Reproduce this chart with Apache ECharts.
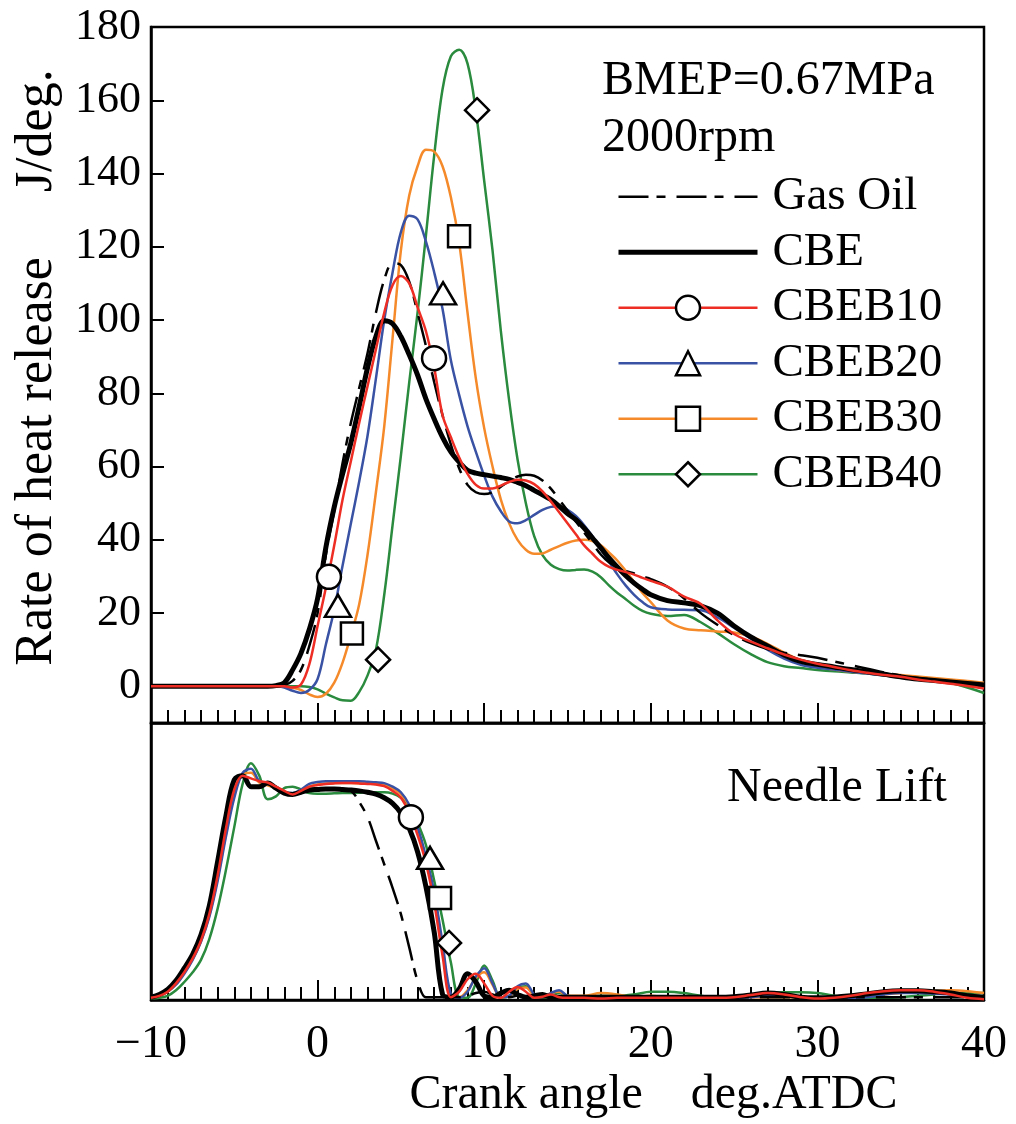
<!DOCTYPE html>
<html>
<head>
<meta charset="utf-8">
<script src="https://cdn.jsdelivr.net/npm/echarts@6/dist/echarts.min.js"></script>
<style>
html, body { margin: 0; padding: 0; background: #fff; }
#chart { width: 1016px; height: 1124px; }
</style>
</head>
<body>
<div id="chart"></div>
<script>
// ---- Rate of heat release (J/deg.) against crank angle (deg. ATDC) ----
const angleHR = [-10, -6, -3, -2.5, -2, -1.5, -1, -0.5, 0, 0.5, 1, 1.5, 2, 2.5, 3, 3.5, 4, 4.5, 5, 5.5,
  6, 6.5, 7, 7.5, 8, 8.5, 9, 9.5, 10, 10.5, 11, 11.5, 12, 12.5, 13, 13.5, 14, 14.5, 15, 15.5,
  16, 16.5, 17, 17.5, 18, 18.5, 19, 19.5, 20, 21, 22, 23, 24, 25, 26, 27, 28, 29, 30, 31,
  32, 33, 34, 35, 36, 37, 38, 39, 40];

const hrGasOil = [0, 0, 0, 0, 0.3, 1.5, 4.5, 11, 20, 36, 48, 61, 72, 81.5, 91, 102, 111, 115.5, 115, 110.5,
  102, 93, 83, 74, 66, 59.5, 55, 53, 52.5, 53, 54.5, 56, 57.3, 57.8, 57.5, 56.2, 54, 51, 48, 45,
  42, 39, 36, 33.8, 32.5, 31.5, 30.8, 30, 29.3, 27.2, 24, 20, 16.8, 14, 11.8, 10.2, 9.2, 8.5, 7.8, 6.8,
  5.8, 4.8, 3.8, 3, 2.3, 1.8, 1.2, 0.8, 0.2];

const hrCBE = [0, 0, 0, 0.2, 1, 4.5, 9, 15.5, 24, 38, 49, 58, 66.5, 76.5, 87, 95.5, 99.8, 99, 95.5, 90.5,
  85, 78.5, 73, 68, 64, 61.2, 59, 58.2, 57.8, 57.4, 57, 56.5, 55.7, 54.8, 53.5, 52.3, 51, 49.2, 47.2, 45.5,
  43.2, 40.5, 37.8, 35, 32.5, 30.2, 28.2, 26.5, 25, 23.4, 22.8, 22, 20, 16.5, 13.5, 11, 8.6, 6.8, 6, 5.3,
  4.6, 4, 3.3, 2.6, 2, 1.6, 1.2, 0.8, 0.4];

const hrCBEB10 = [0, 0, 0, 0, 0, -0.3, 0.5, 6, 16.5, 27, 38.5, 51, 61.5, 72, 82, 92, 102, 109.5, 112, 110,
  103.5, 97, 87, 74, 68, 62.5, 58, 55, 54, 54, 54.8, 55.8, 56.4, 56.2, 55.2, 53.2, 50.5, 47.5, 44.5, 41.5,
  38.5, 36.2, 34, 32.6, 31.8, 31.2, 30.5, 29.6, 28.8, 27.2, 24.5, 22.5, 18, 14.3, 12.2, 10.4, 8.7, 7.3, 6.2, 5.3,
  4.4, 3.7, 3.1, 2.6, 1.9, 1.3, 0.7, 0.1, -0.6];

const hrCBEB20 = [0, 0, 0, 0, -0.3, -1.2, -1.8, -1, 2, 11.5, 21, 33, 44.5, 56, 68.5, 84, 100, 113, 124, 128.5,
  127.5, 121.5, 113, 103, 89, 79.5, 71, 64, 57.5, 51.8, 47.8, 45, 44.5, 45.4, 46.8, 48.2, 49, 49.2, 48.2, 46.5,
  44, 41, 37.5, 34, 30.5, 27.5, 25, 23, 21.6, 21, 20.9, 20.8, 18.8, 16, 13, 10, 7.6, 5.9, 5.1, 4.6,
  4, 3.5, 3, 2.6, 2.1, 1.7, 1.3, 0.9, 0.5];

const hrCBEB30 = [0, 0, 0, 0, -0.1, -0.4, -1, -2.2, -2.9, -2, 1, 6.5, 14, 22.5, 36, 53, 71, 95, 119, 134,
  142, 146.5, 146, 142, 133.5, 121, 102, 84, 70.5, 60, 51, 44.5, 40, 37.3, 36.2, 36.3, 37.3, 38.3, 39.2, 39.8,
  40, 39.7, 38.5, 36.5, 34.3, 31.5, 28.5, 25.5, 23, 18, 15.8, 15.3, 15, 14.7, 13.6, 11.6, 9.2, 7.1, 5.4, 4.6,
  4, 3.6, 3.4, 3.1, 2.7, 2.3, 1.9, 1.5, 1];

const hrCBEB40 = [0, 0, 0, 0, 0, 0, 0, -0.2, -0.8, -2, -3, -3.8, -3.9, -1.5, 3, 10, 25, 44, 63, 83,
  102, 123, 145, 163, 172, 173.8, 170, 157, 138, 119, 97, 78, 62, 50, 41, 35.8, 33.2, 32, 31.6, 31.8,
  31.9, 31.3, 29.8, 27.5, 25.5, 23.8, 22, 20.6, 19.8, 19.2, 19.5, 17.5, 14.6, 11.5, 8.8, 6.6, 5.5, 5, 4.5, 4.1,
  3.8, 3.5, 3, 2.5, 2, 1.6, 0.9, -0.3, -1.8];

// ---- Needle lift (relative) against crank angle ----
const angleNL = [-10, -9.5, -9, -8.5, -8, -7.5, -7, -6.5, -6, -5.5, -5, -4.5, -4, -3.5, -3, -2.5, -2, -1.5, -1, -0.5,
  0, 0.5, 1, 1.5, 2, 2.5, 3, 3.5, 4, 4.5, 5, 5.5, 6, 6.5, 7, 7.5, 8, 8.5, 9, 9.5,
  10, 10.5, 11, 11.5, 12, 12.5, 13, 13.5, 14, 14.5, 15, 16, 17, 18, 19, 20, 21, 22, 23, 24,
  25, 26, 27, 28, 29, 30, 31, 32, 33, 34, 35, 36, 37, 38, 39, 40];

const nlCBE = [1, 2, 3.8, 7, 11.5, 16.5, 23.5, 34, 50, 66.5, 79.5, 81, 77, 77, 78.3, 76.5, 74.7, 74.2, 75, 75.8,
  76, 76.2, 76.2, 76, 75.8, 75.5, 75, 74.3, 73, 71, 67.5, 62, 53.5, 41, 24.5, 2, 1, 4, 9.5, 6.5,
  1.5, 1, 2.5, 3.5, 2, 1, 1.5, 2, 1, 1, 1, 1, 1, 1, 1, 1, 1, 1, 1, 1,
  1.2, 1.8, 2.5, 2, 1, 0.8, 1, 1.5, 2.2, 3, 3.3, 3.3, 3, 2.5, 1.5, 1];

const nlGasOil = [1, 2, 3.8, 7, 11.5, 16.5, 23.5, 34, 50, 66.5, 79.5, 81, 77, 77, 78.3, 76.5, 74.7, 74.2, 75, 75.8,
  76, 76.2, 76.2, 76, 75.5, 71.5, 66, 57.5, 49, 40.5, 31, 19, 7, 1, 1, 1, 1, 1, 1.5, 2.5,
  3, 2, 1, 1, 1.5, 1.5, 1, 1, 1, 1, 1, 1, 1, 1, 1, 1, 1, 1, 1, 1,
  1, 1, 1, 1, 1, 1, 1, 1, 1, 1, 1, 1, 1, 1, 1, 1];

const nlCBEB10 = [0.8, 1.5, 3, 6, 10, 15, 21.5, 31, 45, 62, 76, 81, 80, 79, 78.5, 77, 75.5, 74.2, 75.5, 77,
  77.6, 78, 78.2, 78.3, 78.3, 78.2, 78, 77.8, 77.2, 75.5, 73, 67.5, 59.5, 49.5, 35, 16, 1, 3, 7.5, 9.5,
  6, 1.5, 0.8, 3, 4.7, 3, 0.8, 1.2, 2, 1, 0.8, 0.8, 0.5, 0.8, 0.8, 0.8, 0.8, 0.8, 0.8, 0.8,
  1, 1.8, 2.5, 2, 1, 0.5, 0.8, 1.5, 2.5, 3.2, 3.5, 3.5, 3, 2, 0.8, 0.3];

const nlCBEB20 = [0.8, 1.5, 3, 5.5, 9.5, 14.5, 21, 30, 43, 59, 73, 82, 83.5, 79, 78.3, 77, 75, 74.7, 76, 78,
  78.7, 79, 79, 79, 79, 79, 78.8, 78.6, 78.3, 77, 75, 70.5, 62.5, 52, 39, 20.6, 2, 0.8, 3, 8.5,
  11.5, 6, 1, 1.5, 5, 6, 2, 1, 2.5, 3.5, 1.5, 0.8, 0.8, 0.8, 0.8, 0.8, 0.8, 0.8, 0.8, 0.8,
  0.8, 1, 1.5, 1.5, 1, 0.8, 0.8, 0.8, 1, 2, 2.5, 2.5, 2.3, 2, 1.5, 1];

const nlCBEB30 = [0.8, 1.5, 3, 5.8, 9.8, 14.8, 21.2, 30.5, 44, 60, 74, 81.5, 82, 78.5, 77.5, 76.5, 75, 74.5, 75.5, 77,
  77.8, 78.2, 78.3, 78.3, 78.3, 78.2, 78.1, 78, 77.6, 76.5, 74.3, 70, 61.5, 51, 37.5, 19, 1.5, 1, 3.5, 8,
  10, 5.5, 1, 1.5, 4, 4.5, 1.5, 1, 2.5, 3, 1.5, 1.5, 2.5, 2, 1, 1.5, 1, 1, 1, 1,
  1, 1, 1, 1, 1, 1, 1, 1.5, 1.8, 2, 2.5, 3, 3.3, 3.5, 3.2, 2.5];

const nlCBEB40 = [0.5, 0.8, 1.5, 3.5, 6.5, 10, 14.5, 22, 33, 47, 62.5, 78, 85.5, 81, 72.5, 73.5, 76.5, 77, 76, 74.7,
  74.5, 74.5, 74.6, 74.7, 74.7, 74.8, 75, 75, 75, 74.5, 73, 70, 64, 56, 43, 29, 13.5, 1, 0.8, 6,
  12.5, 7, 0.8, 1.5, 4.5, 5, 1.5, 0.8, 1.5, 2.5, 1.5, 0.8, 1.5, 1.5, 2, 3, 3, 2.5, 1.5, 1,
  0.8, 1.5, 2.5, 2.8, 2.8, 2.5, 1.5, 0.8, 0.8, 0.8, 1, 1.5, 2, 2.5, 2.5, 2.5];

// ---- Symbol positions identifying each blend ----
const markHR_B10 = [[0.68, 29.9], [6.99, 89.6]];
const markHR_B20 = [[1.22, 22.0], [7.53, 107.3]];
const markHR_B30 = [[2.06, 14.4], [8.49, 122.9]];
const markHR_B40 = [[3.63, 7.3], [9.57, 157.3]];
const markNL_B10 = [[5.6, 66.0]];
const markNL_B20 = [[6.75, 51.3]];
const markNL_B30 = [[7.35, 36.8]];
const markNL_B40 = [[7.89, 20.6]];

// ---- Axis ticks ----
const xTicks = [-10, 0, 10, 20, 30, 40];
const xTickText = ['\u221210', '0', '10', '20', '30', '40'];
const yTicks = [0, 20, 40, 60, 80, 100, 120, 140, 160, 180];

const SERIF = '"Liberation Serif", "Times New Roman", serif';
const COLORS = { gas: '#000000', cbe: '#000000', b10: '#ee2e24', b20: '#3a52a3', b30: '#f58a2b', b40: '#2a8a3d' };
const W_THIN = 2.5;
const W_CBE = 5;

function pairs(xs, ys) { return xs.map((x, i) => [x, ys[i]]); }

function crankAxis(gridIndex, withLabels) {
  const ax = {
    type: 'value', gridIndex: gridIndex, min: -10, max: 40, interval: 10,
    axisLine: { show: true, onZero: false, lineStyle: { color: '#000', width: 2.5 } },
    axisTick: { show: true, inside: true, length: 20, lineStyle: { color: '#000', width: 2 } },
    minorTick: { show: true, splitNumber: 10, length: 13, lineStyle: { color: '#000', width: 2 } },
    splitLine: { show: false },
    minorSplitLine: { show: false },
    axisLabel: { show: false }
  };
  if (withLabels) {
    ax.axisLabel = {
      show: true, margin: 22, color: '#000', fontFamily: SERIF, fontSize: 46,
      formatter: v => { const k = xTicks.indexOf(v); return k >= 0 ? xTickText[k] : ''; }
    };
    ax.name = 'Crank angle    deg.ATDC';
    ax.nameLocation = 'middle';
    ax.nameGap = 71;
    ax.nameTextStyle = { color: '#000', fontFamily: SERIF, fontSize: 48, padding: [0, 0, 0, 172] };
  }
  return ax;
}

function lineSeries(name, xIdx, data, color, width, dash, symbol) {
  return {
    type: 'line', name: name, xAxisIndex: xIdx, yAxisIndex: xIdx, data: data,
    smooth: 0.35, symbol: symbol, showSymbol: false, silent: true,
    itemStyle: { color: color },
    lineStyle: { color: color, width: width, type: dash || 'solid' },
    z: 3
  };
}

function markSeries(name, xIdx, data, symbol, size) {
  return {
    type: 'scatter', name: name, xAxisIndex: xIdx, yAxisIndex: xIdx, data: data,
    symbol: symbol, symbolSize: size, silent: true,
    itemStyle: { color: '#fff', borderColor: '#000', borderWidth: 2.5, opacity: 1 },
    z: 10
  };
}

const gasDash = [30, 8, 9, 11];
const markerStyle = { color: '#fff', borderColor: '#000', borderWidth: 2.5 };

const option = {
  animation: false,
  backgroundColor: '#fff',
  grid: [
    { left: 151, top: 27, width: 833, height: 696, show: true, borderColor: '#000', borderWidth: 2.5,
      backgroundColor: 'transparent', containLabel: false, outerBoundsMode: 'none' },
    { left: 151, top: 723, width: 833, height: 277, show: true, borderColor: '#000', borderWidth: 2.5,
      backgroundColor: 'transparent', containLabel: false, outerBoundsMode: 'none' }
  ],
  xAxis: [crankAxis(0, false), crankAxis(1, true)],
  yAxis: [
    {
      type: 'value', gridIndex: 0, min: -10, max: 180,
      axisLine: { show: true, onZero: false, lineStyle: { color: '#000', width: 2.5 } },
      axisTick: { show: true, inside: true, length: 13, customValues: yTicks, lineStyle: { color: '#000', width: 2 } },
      axisLabel: { show: true, customValues: yTicks, margin: 10, color: '#000', fontFamily: SERIF, fontSize: 44 },
      splitLine: { show: false },
      name: 'Rate of heat release     J/deg.',
      nameLocation: 'middle', nameGap: 88, nameRotate: 90,
      nameTextStyle: { color: '#000', fontFamily: SERIF, fontSize: 52, padding: [0, 0, 0, 15] }
    },
    {
      type: 'value', gridIndex: 1, min: 0, max: 100,
      axisLine: { show: true, onZero: false, lineStyle: { color: '#000', width: 2.5 } },
      axisTick: { show: false }, axisLabel: { show: false }, splitLine: { show: false }
    }
  ],
  legend: {
    orient: 'vertical', left: 616, top: 169, padding: 0, itemGap: 0,
    itemWidth: 139, itemHeight: 30, selectedMode: false,
    textStyle: { color: '#000', fontFamily: SERIF, fontSize: 47, lineHeight: 55.5, padding: [0, 0, 0, 10] },
    data: [
      { name: 'Gas Oil', itemStyle: { opacity: 0 }, lineStyle: { width: W_THIN } },
      { name: 'CBE', itemStyle: { opacity: 0 }, lineStyle: { width: W_CBE } },
      { name: 'CBEB10', itemStyle: markerStyle, lineStyle: { width: W_THIN } },
      { name: 'CBEB20', itemStyle: markerStyle, lineStyle: { width: W_THIN } },
      { name: 'CBEB30', itemStyle: markerStyle, lineStyle: { width: W_THIN } },
      { name: 'CBEB40', itemStyle: markerStyle, lineStyle: { width: W_THIN } }
    ]
  },
  graphic: [
    { type: 'text', left: 602, top: 57, silent: true,
      style: { text: 'BMEP=0.67MPa', fill: '#000', fontFamily: SERIF, fontSize: 48 } },
    { type: 'text', left: 602, top: 114, silent: true,
      style: { text: '2000rpm', fill: '#000', fontFamily: SERIF, fontSize: 48 } },
    { type: 'text', left: 727, top: 764, silent: true,
      style: { text: 'Needle Lift', fill: '#000', fontFamily: SERIF, fontSize: 48 } }
  ],
  series: [
    // heat release
    lineSeries('CBEB40', 0, pairs(angleHR, hrCBEB40), COLORS.b40, W_THIN, null, 'diamond'),
    lineSeries('CBEB30', 0, pairs(angleHR, hrCBEB30), COLORS.b30, W_THIN, null, 'rect'),
    lineSeries('CBEB20', 0, pairs(angleHR, hrCBEB20), COLORS.b20, W_THIN, null, 'triangle'),
    lineSeries('CBE', 0, pairs(angleHR, hrCBE), COLORS.cbe, W_CBE, null, 'none'),
    lineSeries('Gas Oil', 0, pairs(angleHR, hrGasOil), COLORS.gas, W_THIN, gasDash, 'none'),
    lineSeries('CBEB10', 0, pairs(angleHR, hrCBEB10), COLORS.b10, W_THIN, null, 'circle'),
    // needle lift
    lineSeries('CBEB40', 1, pairs(angleNL, nlCBEB40), COLORS.b40, W_THIN, null, 'diamond'),
    lineSeries('CBEB30', 1, pairs(angleNL, nlCBEB30), COLORS.b30, W_THIN, null, 'rect'),
    lineSeries('CBEB20', 1, pairs(angleNL, nlCBEB20), COLORS.b20, W_THIN, null, 'triangle'),
    lineSeries('Gas Oil', 1, pairs(angleNL, nlGasOil), COLORS.gas, W_THIN, gasDash, 'none'),
    lineSeries('CBE', 1, pairs(angleNL, nlCBE), COLORS.cbe, W_CBE, null, 'none'),
    lineSeries('CBEB10', 1, pairs(angleNL, nlCBEB10), COLORS.b10, W_THIN, null, 'circle'),
    // identifying symbols
    markSeries('CBEB10 symbols', 0, markHR_B10, 'circle', 24),
    markSeries('CBEB20 symbols', 0, markHR_B20, 'triangle', [26, 22]),
    markSeries('CBEB30 symbols', 0, markHR_B30, 'rect', 22),
    markSeries('CBEB40 symbols', 0, markHR_B40, 'diamond', 24),
    markSeries('CBEB10 lift symbols', 1, markNL_B10, 'circle', 24),
    markSeries('CBEB20 lift symbols', 1, markNL_B20, 'triangle', [26, 22]),
    markSeries('CBEB30 lift symbols', 1, markNL_B30, 'rect', 22),
    markSeries('CBEB40 lift symbols', 1, markNL_B40, 'diamond', 24)
  ]
};

const chart = echarts.init(document.getElementById('chart'), null, { renderer: 'canvas' });
chart.setOption(option);
</script>
</body>
</html>
